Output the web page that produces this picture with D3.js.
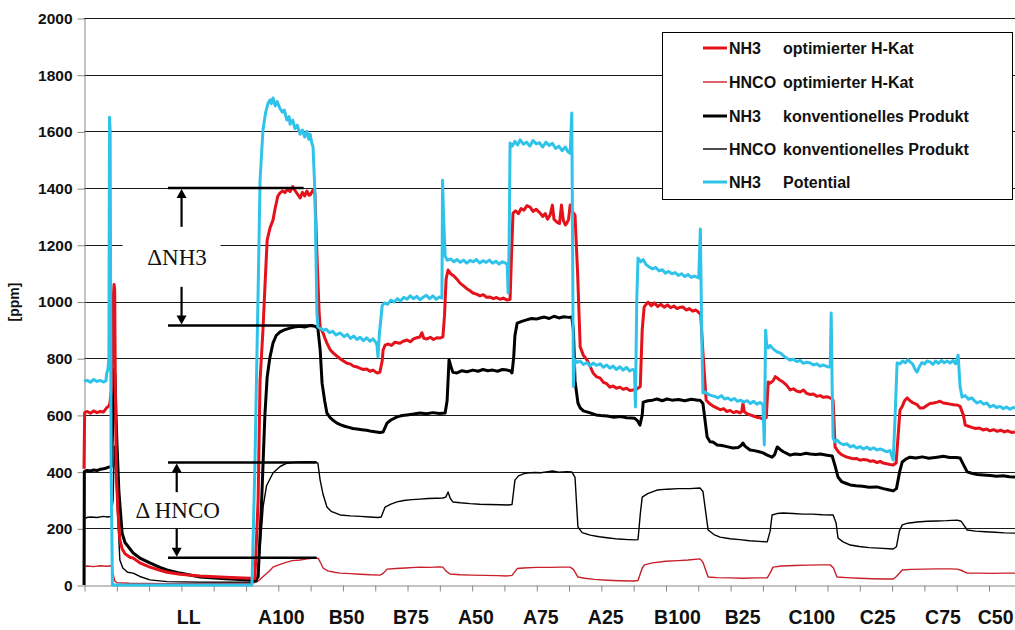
<!DOCTYPE html>
<html>
<head>
<meta charset="utf-8">
<script src="https://cdn.jsdelivr.net/npm/d3@7"></script>
<style>
  body { margin: 0; background: #fff; }
  svg { display: block; }
</style>
</head>
<body>
<svg id="chart" width="1015" height="630"></svg>
<script>
// ---- data: time in minutes, concentrations in ppm ----
const yTicks = [0, 200, 400, 600, 800, 1000, 1200, 1400, 1600, 1800, 2000];
const timeTicks = d3.range(0, 290, 10);

const phaseLabels  = ["LL", "A100", "B50", "B75", "A50", "A75", "A25", "B100", "B25", "C100", "C25", "C75", "C50"];
const phaseCenters = [32.4, 61.1, 81.3, 101.2, 121.3, 141.4, 161.5, 183.7, 203.9, 225.3, 245.7, 265.9, 282.2];

const nh3Potential = [[0,718],[1,722],[2,715],[3,725],[4,718],[5,722],[6,716],[6.8,720],[7.0,745],[7.4,760],[7.7,800],[7.9,1650],[8.1,1600],[8.4,400],[8.8,0],[20,0],[40,0],[52.0,0],[52.9,420],[54.0,1100],[54.5,1428],[55.4,1605],[56.2,1665],[57.0,1700],[57.6,1711],[58.0,1698],[58.5,1718],[59.2,1690],[59.8,1705],[60.7,1680],[61.4,1668],[62.0,1675],[62.8,1640],[63.5,1652],[63.8,1625],[64.6,1640],[65.3,1610],[66.0,1622],[66.9,1590],[67.6,1605],[68.3,1580],[69.0,1600],[69.6,1572],[70.0,1590],[70.5,1560],[70.9,1545],[71.5,1380],[72.1,960],[72.4,910],[73.2,905],[74.0,898],[75.0,902],[76.0,890],[77.0,895],[78.0,882],[79.3,889],[80.5,876],[81.5,884],[82.5,870],[83.5,878],[84.5,866],[85.5,874],[86.5,862],[87.5,872],[88.5,860],[89.5,868],[90.4,855],[90.7,845],[91.0,805],[91.4,880],[92.3,985],[93.0,995],[94.0,990],[95.0,1005],[96.0,998],[97.0,1010],[98.0,1002],[99.0,1015],[100.0,1008],[101.0,1020],[102.0,1010],[103.0,1018],[104.0,1006],[105.0,1015],[106.0,1022],[107.0,1010],[108.0,1020],[109.0,1008],[110.0,1016],[110.8,1012],[111.0,1428],[111.3,1300],[111.8,1160],[112.4,1146],[113.5,1150],[114.5,1140],[115.5,1148],[116.5,1138],[117.5,1146],[118.5,1135],[119.5,1145],[120.5,1140],[121.5,1148],[122.5,1136],[123.5,1144],[124.5,1138],[125.5,1146],[126.5,1135],[127.5,1142],[128.5,1132],[129.5,1140],[130.5,1135],[131.0,1130],[131.3,1030],[131.6,1200],[131.9,1559],[132.6,1548],[133.4,1565],[134.2,1552],[135.0,1570],[136.0,1555],[137.0,1562],[138.0,1548],[139.0,1568],[140.0,1556],[141.0,1560],[142.0,1545],[143.0,1562],[144.0,1550],[145.0,1558],[146.0,1540],[147.0,1548],[148.0,1532],[149.0,1545],[149.8,1528],[150.5,1523],[151.0,1665],[151.3,1100],[151.5,700],[151.9,795],[152.6,785],[153.6,790],[154.6,778],[155.7,785],[156.7,772],[157.6,783],[158.6,775],[159.8,780],[160.8,768],[161.8,776],[162.8,765],[163.8,772],[164.8,760],[165.9,770],[166.9,758],[167.9,768],[168.9,755],[169.7,760],[170.4,758],[170.7,628],[171.1,1000],[171.5,1153],[172.3,1140],[173.1,1148],[174.0,1130],[175.0,1122],[176.0,1115],[177.0,1120],[178.0,1108],[179.0,1112],[180.0,1100],[181.0,1106],[182.0,1098],[183.0,1102],[184.0,1092],[185.0,1098],[186.0,1088],[187.0,1095],[188.0,1085],[189.0,1090],[190.3,1083],[190.8,1256],[191.2,900],[191.6,677],[192.3,681],[193.3,672],[194.3,668],[195.3,665],[196.3,660],[197.3,668],[198.3,656],[199.3,660],[200.3,652],[201.3,658],[202.3,648],[203.3,652],[204.3,645],[205.3,650],[206.3,640],[207.3,648],[208.3,638],[209.3,644],[210.2,635],[210.6,494],[211.0,899],[211.3,850],[211.8,836],[212.4,845],[213.4,832],[214.6,822],[215.6,818],[216.6,808],[217.6,800],[218.6,793],[219.6,797],[220.6,788],[221.7,792],[222.7,782],[223.7,786],[224.8,783],[225.8,776],[226.8,780],[227.9,772],[228.9,776],[230.3,769],[231.0,770],[231.3,959],[231.6,700],[231.9,518],[232.5,505],[233.1,511],[234.1,500],[235.1,495],[236.2,498],[237.2,487],[238.2,492],[239.2,483],[240.3,488],[241.3,480],[242.4,486],[243.4,478],[244.4,484],[245.5,476],[246.5,480],[247.4,476],[248.4,470],[249.5,474],[250.5,441],[251.1,600],[251.7,783],[252.6,780],[253.4,790],[254.2,784],[255.0,795],[255.7,787],[256.5,780],[257.3,760],[257.9,751],[258.6,770],[259.4,785],[260.2,780],[261.0,790],[261.9,787],[262.8,778],[263.6,790],[264.5,782],[265.4,792],[266.3,784],[267.2,790],[268.1,783],[269.0,792],[269.8,780],[270.6,811],[271.2,700],[271.8,663],[272.8,668],[273.8,655],[274.8,660],[275.8,648],[276.5,642],[277.5,648],[278.5,638],[279.5,642],[280.5,628],[281.5,634],[282.5,626],[283.6,630],[284.6,622],[285.6,628],[286.6,620],[287.6,626],[288.2,624]];

const nh3Optimized = [[0,410],[0.2,608],[1,612],[2,606],[3,614],[4,608],[5,612],[6,610],[7,625],[7.6,630],[8.0,640],[8.6,700],[9.0,1000],[9.3,1060],[9.5,1040],[9.7,700],[10.0,400],[10.5,260],[11.1,159],[11.8,128],[12.7,110],[14.2,98],[15.2,95],[17.3,78],[20.4,63],[23.5,52],[25.7,45],[29.7,38],[35.9,32],[43.7,27],[51.4,24],[52.9,22],[53.9,300],[54.5,720],[55.4,900],[56.0,1050],[56.7,1217],[57.6,1260],[58.5,1287],[59.2,1330],[60.0,1372],[60.7,1383],[61.5,1390],[62.2,1384],[63.0,1396],[63.8,1388],[64.6,1405],[65.3,1392],[66.0,1380],[66.9,1365],[67.6,1385],[68.3,1372],[69.0,1390],[69.6,1375],[70.0,1376],[70.9,1393],[71.5,1380],[72.0,1200],[72.4,1076],[72.8,960],[73.1,910],[74.0,889],[74.6,870],[75.2,853],[76.2,830],[77.2,818],[78.2,808],[79.3,798],[80.3,790],[81.4,782],[82.4,780],[83.4,772],[84.5,769],[85.5,764],[86.5,760],[87.5,762],[88.5,754],[89.5,758],[90.4,750],[91.0,748],[91.6,751],[92.3,790],[92.6,829],[93.2,846],[94.2,850],[95.2,845],[96.2,856],[97.8,853],[98.8,860],[100.0,864],[101.0,858],[102.0,868],[103.0,872],[104.0,875],[104.6,890],[105.2,870],[106.2,868],[107.2,874],[108.2,866],[109.2,872],[110.2,871],[111.1,875],[111.6,950],[112.1,1080],[112.7,1111],[113.5,1098],[114.5,1090],[115.5,1078],[116.4,1065],[117.5,1055],[118.5,1045],[119.5,1038],[120.4,1030],[121.5,1026],[122.6,1020],[123.6,1024],[124.6,1015],[125.7,1016],[126.7,1010],[127.7,1014],[128.8,1008],[129.8,1012],[131.0,1005],[131.9,1008],[132.3,1150],[132.8,1312],[133.6,1320],[134.5,1310],[135.3,1328],[136.2,1322],[137.1,1338],[138.1,1333],[139.0,1318],[140.0,1325],[141.2,1312],[142.0,1300],[142.8,1310],[143.5,1290],[144.3,1305],[145.0,1340],[145.5,1290],[146.4,1280],[147.2,1275],[147.8,1340],[148.4,1285],[149.0,1270],[149.5,1277],[150.0,1290],[150.5,1340],[151.0,1320],[152.0,1305],[152.8,1100],[153.6,840],[154.6,810],[155.7,794],[156.7,770],[157.6,748],[158.6,735],[159.8,730],[160.8,715],[161.8,710],[162.8,698],[163.8,702],[164.8,694],[165.9,698],[166.9,690],[167.9,694],[169.0,686],[170.0,688],[171.0,690],[172.2,700],[172.8,900],[173.4,981],[174.6,998],[175.6,985],[176.6,995],[177.6,982],[178.6,990],[179.6,980],[180.6,988],[181.6,978],[182.6,984],[183.6,975],[184.6,980],[185.4,981],[186.4,970],[187.4,975],[188.4,966],[189.4,970],[190.1,963],[190.9,955],[191.6,820],[192.6,652],[193.6,640],[194.6,632],[196.0,624],[197.0,618],[198.0,622],[199.0,612],[200.0,616],[201.0,608],[202.0,612],[203.1,607],[203.6,612],[204.0,640],[204.4,612],[205.2,604],[206.2,600],[207.2,596],[208.2,592],[209.2,590],[210.2,585],[211.2,590],[211.8,716],[212.4,712],[213.3,720],[214.0,735],[214.6,730],[215.5,722],[216.4,716],[217.4,706],[218.6,688],[219.6,692],[220.6,684],[221.7,681],[222.7,688],[223.7,676],[224.8,672],[225.8,674],[226.8,666],[227.9,668],[228.9,662],[230.0,664],[231.0,660],[231.9,652],[232.5,487],[233.5,470],[234.5,460],[235.4,455],[236.2,451],[237.2,448],[238.2,445],[239.2,446],[240.3,440],[241.3,443],[242.4,441],[243.4,436],[244.4,438],[245.5,432],[246.5,436],[247.4,430],[248.4,428],[249.5,425],[250.5,423],[251.4,430],[252.6,617],[253.3,630],[254.0,650],[254.8,660],[255.7,650],[256.7,642],[257.9,636],[258.8,624],[259.8,624],[260.8,632],[261.9,640],[263.0,642],[264.1,645],[265.0,648],[266.0,642],[267.1,640],[268.1,638],[269.2,636],[270.3,635],[271.2,630],[272.2,600],[272.8,564],[273.8,560],[274.8,556],[276.0,552],[277.2,554],[278.3,547],[279.4,550],[280.5,544],[281.6,548],[282.7,542],[283.8,546],[284.9,540],[286.0,544],[287.1,538],[288.2,540]];

const nh3Conventional = [[0,0],[0.1,400],[1,404],[2,402],[3,406],[4,404],[5,408],[6,410],[6.8,412],[7.4,415],[8.5,418],[9.0,600],[9.3,760],[9.6,740],[9.9,600],[10.2,500],[10.8,330],[11.8,183],[12.7,150],[14.2,128],[15.2,113],[17.3,95],[20.4,78],[23.5,62],[25.7,53],[29.7,42],[35.9,28],[43.7,22],[51.4,18],[53.0,17],[53.9,28],[55.0,300],[56.0,600],[56.7,733],[57.5,800],[58.5,853],[59.5,880],[60.7,893],[62.0,900],[63.5,905],[65.0,910],[66.9,913],[68.3,910],[70.0,915],[71.5,913],[72.4,905],[73.1,830],[73.7,712],[74.5,650],[75.2,606],[76.2,590],[77.2,580],[78.3,571],[79.5,565],[80.7,560],[82.0,556],[83.2,552],[84.5,550],[86.0,548],[87.5,546],[89.0,542],[90.5,540],[91.6,538],[92.6,540],[93.8,571],[95.0,582],[96.9,593],[98.5,598],[100.0,600],[102.0,603],[104.0,607],[106.0,604],[108.0,608],[110.0,605],[111.8,607],[112.4,650],[113.0,794],[113.6,770],[114.2,750],[115.5,748],[117.0,756],[118.5,752],[120.4,758],[122.0,754],[123.5,760],[125.0,756],[126.5,758],[128.0,754],[129.5,760],[131.0,758],[132.0,755],[132.5,748],[133.0,800],[133.4,880],[134.1,924],[135.5,930],[137.0,935],[138.5,940],[140.0,938],[141.2,942],[142.5,945],[144.0,940],[145.5,948],[147.0,942],[148.5,946],[150.0,944],[151.0,945],[151.5,900],[152.0,720],[152.9,642],[153.6,625],[154.6,614],[156.7,607],[158.5,600],[160.0,598],[162.0,596],[164.0,592],[166.0,594],[168.0,590],[169.5,589],[170.5,588],[171.3,580],[172.1,564],[172.8,600],[173.1,645],[174.6,650],[176.0,652],[177.4,656],[179.0,650],[180.5,656],[182.0,652],[184.0,654],[186.0,650],[188.0,655],[190.0,652],[190.7,652],[191.6,640],[192.9,522],[193.8,505],[194.7,504],[196.0,494],[197.5,492],[199.0,488],[200.9,483],[202.5,485],[203.4,492],[204.0,501],[204.6,490],[206.2,476],[207.5,474],[209.0,470],[210.2,466],[211.5,458],[213.0,451],[213.8,460],[214.6,487],[215.5,478],[216.5,470],[218.6,458],[220.0,462],[221.7,460],[223.5,465],[224.8,462],[226.5,460],[228.0,462],[230.0,458],[231.6,455],[232.5,420],[233.4,381],[234.5,365],[236.0,358],[237.2,353],[239.0,350],[241.0,348],[243.0,345],[245.5,346],[247.4,340],[249.0,336],[250.5,332],[251.5,340],[252.5,400],[253.3,434],[254.5,445],[255.7,451],[257.5,448],[259.5,452],[261.5,447],[264.1,451],[266.0,454],[268.0,450],[270.0,450],[271.2,448],[272.0,430],[273.4,399],[274.8,394],[276.5,390],[278.3,388],[280.5,386],[282.5,384],[284.5,385],[286.5,382],[288.2,381]];

const hncoConventional = [[0.5,235],[0.8,238],[2,240],[4,238],[6,242],[7.4,240],[8.4,242],[9.0,300],[9.4,490],[9.7,430],[10.2,300],[11.1,88],[12.0,60],[13.5,45],[15.2,42],[17.3,30],[20.4,18],[25.7,12],[35.9,10],[51.4,10],[53.5,12],[54.5,130],[55.5,280],[56.5,350],[58.5,395],[60.7,418],[62.5,428],[64.5,432],[66.9,434],[69.0,435],[71.5,434],[72.4,430],[73.1,370],[74.0,320],[75.2,275],[76.5,260],[79.3,247],[82.5,244],[85.5,242],[88.5,240],[91.0,238],[92.0,240],[93.2,275],[95.0,285],[96.9,293],[99.0,298],[101.5,301],[104.0,303],[106.5,305],[109.0,306],[111.1,307],[112.0,310],[112.7,328],[113.4,305],[114.2,293],[116.5,290],[119.5,287],[122.5,285],[125.5,284],[128.8,283],[131.0,282],[132.5,284],[133.4,370],[134.5,385],[136.0,392],[137.2,395],[139.5,397],[141.5,396],[143.5,400],[145.0,402],[147.0,398],[149.5,400],[151.0,399],[152.0,380],[152.9,205],[154.2,185],[156.7,176],[159.5,170],[162.5,166],[165.5,162],[168.5,160],[170.6,159],[171.5,160],[172.2,250],[172.8,310],[174.5,322],[177.4,335],[180.5,338],[184.0,340],[187.5,340],[190.7,342],[191.6,330],[193.2,194],[195.0,178],[196.9,169],[200.0,163],[203.0,160],[206.0,156],[209.0,154],[211.5,152],[212.4,190],[213.0,247],[214.5,252],[216.4,254],[219.5,252],[222.5,250],[225.5,250],[228.5,248],[231.9,247],[232.8,220],[233.4,166],[235.0,152],[237.2,141],[240.0,136],[243.0,132],[246.0,130],[250.5,127],[251.5,135],[252.4,190],[253.3,212],[255.0,218],[257.9,222],[261.0,225],[264.0,226],[267.0,227],[270.3,229],[271.5,225],[273.4,194],[276.0,190],[279.0,188],[282.0,186],[285.0,184],[288.2,183]];

const hncoOptimized = [[0.5,66],[1,67],[3,65],[5,68],[7,66],[8.5,68],[9.0,40],[9.5,15],[10.2,8],[14,6],[25,5],[40,6],[52,6],[53.5,12],[54.5,20],[56.0,35],[57.5,50],[58.5,63],[60.5,72],[62.5,80],[64.5,86],[66.9,88],[69.0,92],[71.5,95],[72.5,94],[73.4,75],[74.0,60],[75.5,50],[77.5,45],[79.3,42],[82.5,40],[85.5,38],[88.5,36],[91.6,35],[92.5,40],[93.8,56],[96.5,58],[99.5,60],[102.5,62],[104.0,63],[107.0,62],[110.0,64],[111.1,63],[112.0,50],[113.3,39],[116.5,36],[120.0,35],[124.0,34],[128.0,33],[131.0,32],[132.5,34],[134.1,58],[136.0,60],[140.0,62],[144.0,62],[148.0,63],[150.5,63],[151.5,55],[152.9,28],[155.0,24],[158.0,20],[162.0,17],[166.0,15],[170.0,14],[171.5,16],[172.8,60],[173.5,71],[176.0,78],[180.0,84],[184.0,86],[187.0,88],[190.7,92],[191.6,80],[193.2,28],[196.0,26],[200.0,25],[204.0,24],[208.0,25],[211.5,25],[212.3,40],[213.3,63],[216.0,67],[220.0,69],[224.0,70],[228.0,71],[231.0,71],[232.0,60],[233.1,28],[236.0,26],[240.0,24],[244.0,22],[248.0,21],[250.5,21],[251.5,30],[253.3,53],[256.0,55],[260.0,56],[264.0,57],[268.0,57],[270.3,56],[271.5,52],[273.4,42],[277.0,42],[281.0,41],[285.0,42],[288.2,42]];

// difference markers: spans in minutes, levels in ppm
const deltaNH3   = { label: "\u0394NH3",   upper: 1400, lower: 915, upperSpan: [26, 68], lowerSpan: [26, 71], arrowAt: 30.2, textAt: 28.8 };
const deltaHNCO  = { label: "\u0394 HNCO", upper: 432,  lower: 96,  upperSpan: [26, 72], lowerSpan: [26, 72], arrowAt: 28.7, textAt: 29.0 };

const legendItems = [
  { gas: "NH3",  desc: "optimierter H-Kat",       color: "#e3121b", width: 3 },
  { gas: "HNCO", desc: "optimierter H-Kat",       color: "#c8202a", width: 1.4 },
  { gas: "NH3",  desc: "konventionelles Produkt", color: "#000000", width: 3 },
  { gas: "HNCO", desc: "konventionelles Produkt", color: "#000000", width: 1.4 },
  { gas: "NH3",  desc: "Potential",               color: "#2fc3ea", width: 3 }
];

// ---- layout ----
const W = 1015, H = 630;
const plot = { left: 84, right: 1015, top: 18, bottom: 585 };
const font = "'Liberation Sans', Arial, sans-serif";

const svg = d3.select("#chart");
svg.append("rect").attr("width", W).attr("height", H).attr("fill", "#fff");

const x = d3.scaleLinear().domain([0, 288.2]).range([plot.left, plot.right]);
const y = d3.scaleLinear().domain([0, 2000]).range([plot.bottom, plot.top]);

// horizontal grid
svg.append("g").selectAll("line").data(yTicks.filter(v => v > 0)).join("line")
  .attr("x1", plot.left).attr("x2", plot.right)
  .attr("y1", d => Math.round(y(d)) + 0.5).attr("y2", d => Math.round(y(d)) + 0.5)
  .attr("stroke", "#1a1a1a").attr("stroke-width", 1);

// y axis
const yAxis = svg.append("g").attr("transform", `translate(${plot.left + 0.5},0.5)`)
  .call(d3.axisLeft(y).tickValues(yTicks).tickFormat(d3.format("d"))
    .tickSize(7).tickPadding(5).tickSizeOuter(0));
yAxis.select(".domain").attr("stroke", "#888");
yAxis.selectAll(".tick line").attr("stroke", "#888");
yAxis.selectAll(".tick text").attr("font-family", font).attr("font-size", 15.5)
  .attr("font-weight", "bold").attr("fill", "#111");

// x axis (time ticks, no numbers)
const xAxis = svg.append("g").attr("transform", `translate(0.5,${plot.bottom + 0.5})`)
  .call(d3.axisBottom(x).tickValues(timeTicks).tickFormat("").tickSize(6).tickSizeOuter(0));
xAxis.select(".domain").attr("stroke", "#888");
xAxis.selectAll(".tick line").attr("stroke", "#888");

// phase labels below the time axis
svg.append("g").selectAll("text").data(phaseLabels).join("text")
  .attr("x", (d, i) => x(phaseCenters[i])).attr("y", 624)
  .attr("text-anchor", "middle")
  .attr("font-family", font).attr("font-size", 19.5).attr("font-weight", "bold").attr("fill", "#111")
  .text(d => d);

// y axis title
svg.append("text")
  .attr("transform", "translate(19,302) rotate(-90)")
  .attr("text-anchor", "middle")
  .attr("font-family", font).attr("font-size", 14).attr("font-weight", "bold").attr("fill", "#111")
  .text("[ppm]");

// ---- series ----
const line = d3.line().x(d => x(d[0])).y(d => y(d[1]));
const series = [
  { data: hncoOptimized,    style: legendItems[1] },
  { data: hncoConventional, style: legendItems[3] },
  { data: nh3Conventional,  style: legendItems[2] },
  { data: nh3Optimized,     style: legendItems[0] },
  { data: nh3Potential,     style: legendItems[4] }
];
svg.append("g").selectAll("path").data(series).join("path")
  .attr("d", d => line(d.data))
  .attr("fill", "none")
  .attr("stroke", d => d.style.color)
  .attr("stroke-width", d => d.style.width)
  .attr("stroke-linejoin", "round");

// ---- difference annotations ----
function drawDelta(g, a, fontSize, box) {
  const yU = y(a.upper), yL = y(a.lower), ax = x(a.arrowAt);
  g.append("line").attr("x1", x(a.upperSpan[0])).attr("x2", x(a.upperSpan[1]))
    .attr("y1", yU).attr("y2", yU).attr("stroke", "#000").attr("stroke-width", 2.5);
  g.append("line").attr("x1", x(a.lowerSpan[0])).attr("x2", x(a.lowerSpan[1]))
    .attr("y1", yL).attr("y2", yL).attr("stroke", "#000").attr("stroke-width", 2.5);
  const mid = (yU + yL) / 2;
  // white field behind the label
  g.append("rect").attr("x", ax - box.w / 2 + box.dx).attr("y", mid - box.h / 2)
    .attr("width", box.w).attr("height", box.h).attr("fill", "#fff");
  const gapTop = mid - box.h / 2 - 1, gapBot = mid + box.h / 2 + 1;
  // up arrow
  g.append("line").attr("x1", ax).attr("x2", ax).attr("y1", gapTop).attr("y2", yU + 8)
    .attr("stroke", "#000").attr("stroke-width", 2.2);
  g.append("path").attr("d", `M${ax},${yU + 1} L${ax - 5},${yU + 10} L${ax + 5},${yU + 10} Z`).attr("fill", "#000");
  // down arrow
  g.append("line").attr("x1", ax).attr("x2", ax).attr("y1", gapBot).attr("y2", yL - 8)
    .attr("stroke", "#000").attr("stroke-width", 2.2);
  g.append("path").attr("d", `M${ax},${yL - 1} L${ax - 5},${yL - 10} L${ax + 5},${yL - 10} Z`).attr("fill", "#000");
  g.append("text").attr("x", x(a.textAt)).attr("y", mid).attr("dy", "0.35em")
    .attr("text-anchor", "middle")
    .attr("font-family", "'Liberation Serif', 'Times New Roman', serif")
    .attr("font-size", fontSize).attr("fill", "#111")
    .text(a.label);
}
const ann = svg.append("g");
drawDelta(ann, deltaNH3, 23, { w: 98, h: 58, dx: -10 });
drawDelta(ann, deltaHNCO, 23, { w: 96, h: 34, dx: -4 });

// ---- legend ----
const lg = svg.append("g");
lg.append("rect").attr("x", 662.5).attr("y", 32.5).attr("width", 350).attr("height", 167)
  .attr("fill", "#fff").attr("stroke", "#000").attr("stroke-width", 1);
const rowY = [48, 82, 116, 149, 182];
legendItems.forEach((it, i) => {
  lg.append("line").attr("x1", 703).attr("x2", 727).attr("y1", rowY[i]).attr("y2", rowY[i])
    .attr("stroke", it.color).attr("stroke-width", it.width);
  lg.append("text").attr("x", 729).attr("y", rowY[i]).attr("dy", "0.36em")
    .attr("font-family", font).attr("font-size", 16).attr("font-weight", "bold").attr("fill", "#111")
    .text(it.gas);
  lg.append("text").attr("x", 783).attr("y", rowY[i]).attr("dy", "0.36em")
    .attr("font-family", font).attr("font-size", 16).attr("font-weight", "bold").attr("fill", "#111")
    .text(it.desc);
});
</script>
</body>
</html>
